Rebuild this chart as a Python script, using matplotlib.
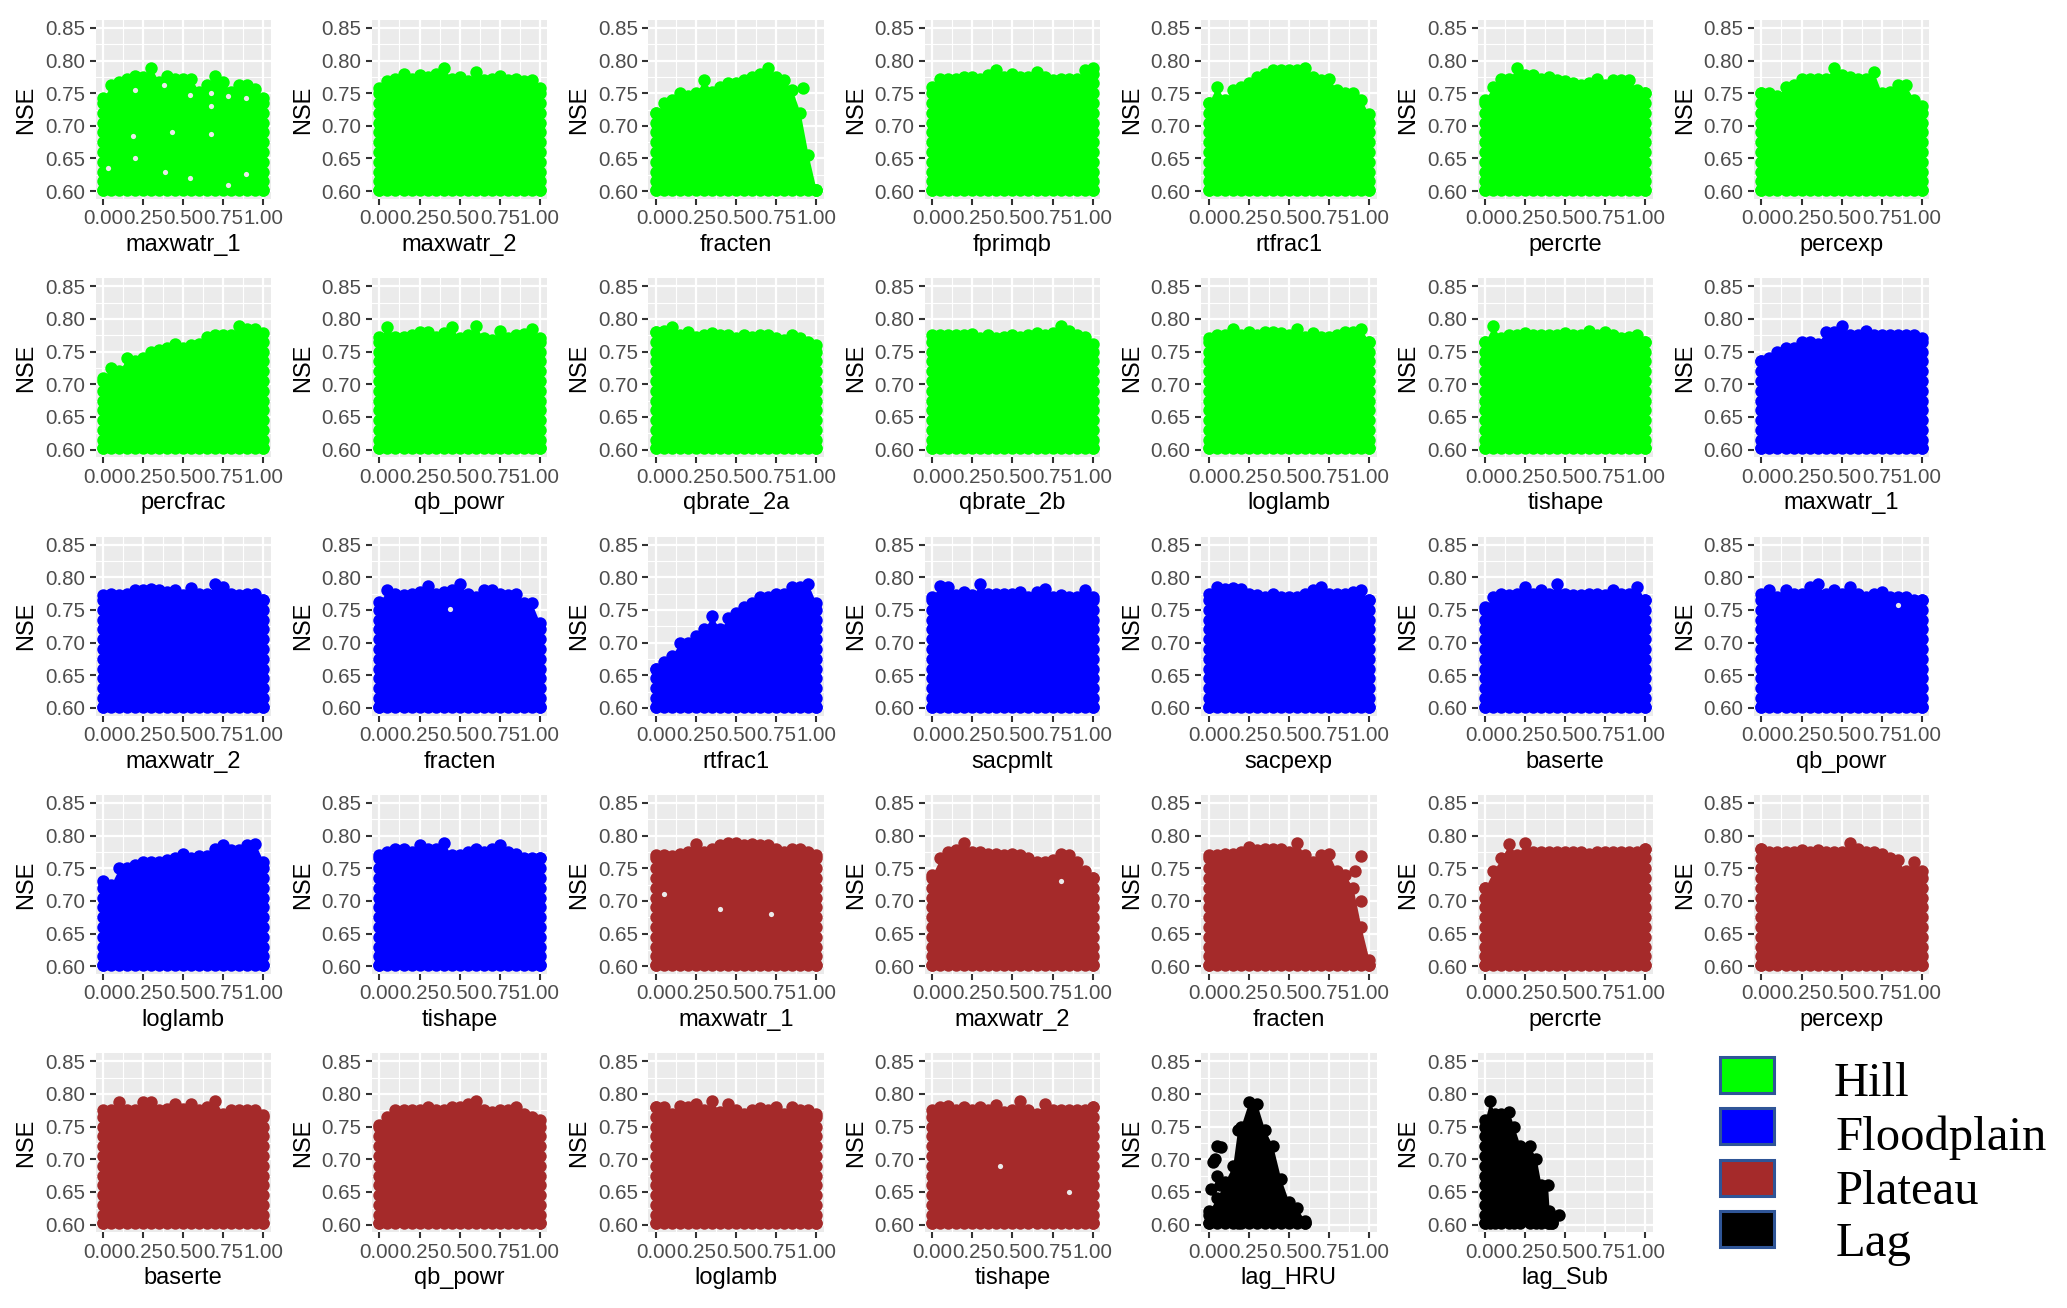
import matplotlib
matplotlib.use('Agg')
import matplotlib.pyplot as plt
from matplotlib.patches import Rectangle

# Clouds are too dense to read point by point, so each panel keeps the upper
# edge of its cloud (NSE at the x positions below).
x_pos = [0, .05, .1, .15, .2, .25, .3, .35, .4, .45, .5, .55, .6, .65, .7, .75, .8, .85, .9, .95, 1]
edge_y = [.602, .615, .63, .645, .66, .675, .69, .705, .72, .735, .75, .765, .78]

top_01 = [.742, .762, .767, .772, .777, .775, .789, .767, .777, .772, .772, .772, .752, .762, .777, .767, .752, .762, .762, .757, .742]
top_02 = [.758, .768, .772, .780, .772, .778, .775, .780, .789, .772, .775, .768, .782, .770, .772, .777, .770, .772, .768, .770, .758]
top_03 = [.72, .735, .74, .75, .745, .75, .77, .752, .76, .765, .765, .77, .775, .78, .789, .775, .77, .755, .72, .655, .602]
top_04 = [.76, .772, .772, .772, .775, .775, .772, .778, .785, .775, .78, .775, .775, .782, .775, .77, .772, .772, .772, .785, .789]
top_05 = [.735, .76, .74, .755, .76, .765, .775, .78, .785, .785, .785, .785, .789, .775, .77, .772, .755, .75, .75, .74, .718]
top_06 = [.74, .76, .772, .772, .789, .778, .778, .772, .775, .77, .768, .765, .762, .765, .772, .762, .77, .77, .77, .755, .75]
top_07 = [.75, .75, .745, .76, .762, .772, .772, .772, .772, .789, .778, .775, .772, .772, .782, .75, .752, .762, .762, .74, .73]
top_08 = [.71, .725, .72, .74, .735, .74, .75, .752, .755, .762, .755, .76, .762, .772, .775, .775, .775, .789, .785, .785, .778]
top_09 = [.772, .787, .772, .772, .775, .78, .78, .772, .778, .787, .77, .775, .789, .77, .768, .782, .77, .775, .777, .785, .77]
top_10 = [.78, .782, .788, .775, .78, .772, .775, .778, .775, .775, .77, .775, .772, .775, .775, .77, .768, .775, .77, .765, .76]
top_11 = [.775, .775, .775, .775, .775, .777, .77, .775, .77, .772, .775, .772, .775, .778, .775, .778, .789, .782, .775, .772, .762]
top_12 = [.77, .775, .775, .785, .775, .78, .775, .78, .78, .778, .775, .785, .772, .778, .772, .772, .775, .78, .78, .785, .765]
top_13 = [.765, .789, .77, .775, .775, .778, .775, .775, .775, .775, .778, .775, .775, .782, .775, .78, .775, .77, .772, .775, .765]
top_14 = [.735, .74, .75, .755, .755, .765, .765, .762, .78, .78, .789, .775, .775, .782, .775, .775, .775, .775, .775, .775, .77]
top_15 = [.772, .775, .772, .775, .78, .78, .782, .78, .778, .78, .772, .783, .775, .775, .789, .785, .775, .772, .775, .775, .765]
top_16 = [.762, .78, .775, .772, .775, .777, .787, .775, .778, .78, .789, .775, .77, .78, .78, .775, .772, .775, .76, .76, .73]
top_17 = [.66, .67, .68, .70, .70, .71, .72, .74, .72, .737, .745, .755, .76, .77, .77, .775, .775, .785, .785, .789, .76]
top_18 = [.77, .787, .785, .772, .778, .772, .789, .775, .775, .775, .775, .778, .77, .778, .782, .77, .772, .77, .77, .78, .77]
top_19 = [.775, .785, .782, .783, .782, .775, .772, .77, .775, .77, .77, .77, .775, .78, .785, .775, .775, .775, .778, .78, .765]
top_20 = [.755, .77, .775, .772, .775, .785, .775, .78, .775, .789, .775, .772, .772, .775, .775, .772, .78, .775, .775, .785, .765]
top_21 = [.775, .78, .77, .78, .775, .775, .785, .789, .775, .78, .775, .785, .775, .77, .775, .778, .77, .77, .77, .765, .765]
top_22 = [.73, .725, .75, .75, .755, .76, .76, .76, .762, .765, .772, .765, .768, .768, .78, .785, .778, .778, .785, .787, .76]
top_23 = [.77, .775, .78, .78, .775, .785, .78, .78, .789, .77, .77, .775, .78, .775, .78, .785, .775, .772, .765, .765, .765]
top_24 = [.77, .77, .768, .772, .775, .787, .775, .78, .785, .788, .788, .785, .787, .785, .785, .78, .775, .78, .78, .775, .77]
top_25 = [.74, .765, .775, .778, .789, .775, .775, .772, .772, .77, .772, .77, .765, .76, .76, .762, .772, .77, .76, .745, .735]
top_26 = [.77, .77, .772, .772, .775, .783, .778, .78, .78, .78, .775, .789, .77, .76, .77, .772, .745, .74, .72, .66, .61]
top_27 = [.72, .745, .765, .787, .77, .789, .775, .775, .775, .775, .775, .775, .775, .772, .775, .775, .775, .775, .775, .775, .78]
top_28 = [.78, .775, .775, .775, .775, .778, .775, .778, .775, .775, .775, .789, .78, .775, .775, .772, .765, .762, .745, .76, .745]
top_29 = [.775, .775, .787, .775, .775, .787, .787, .775, .777, .785, .777, .785, .775, .78, .789, .77, .775, .775, .775, .775, .768]
top_30 = [.752, .765, .775, .775, .775, .775, .78, .775, .775, .78, .78, .785, .789, .775, .772, .775, .775, .78, .77, .765, .76]
top_31 = [.78, .78, .77, .782, .78, .785, .775, .789, .772, .785, .775, .77, .775, .778, .775, .78, .77, .78, .775, .775, .77]
top_32 = [.775, .78, .782, .775, .78, .775, .78, .775, .783, .772, .775, .789, .775, .77, .785, .775, .775, .775, .775, .775, .78]

# the two lag panels only cover part of the range
lag_hru_x = [0, .05, .1, .15, .18, .2, .25, .3, .35, .4, .45, .5, .55, .6]
lag_hru_top = [.62, .64, .665, .69, .745, .75, .788, .785, .745, .72, .67, .635, .625, .606]
lag_sub_x = [0, .03, .06, .1, .15, .18, .22, .28, .32, .35, .39, .4, .42]
lag_sub_top = [.76, .789, .77, .77, .772, .75, .72, .72, .70, .66, .66, .62, .605]

labels = ['maxwatr_1', 'maxwatr_2', 'fracten', 'fprimqb', 'rtfrac1', 'percrte', 'percexp',
          'percfrac', 'qb_powr', 'qbrate_2a', 'qbrate_2b', 'loglamb', 'tishape', 'maxwatr_1',
          'maxwatr_2', 'fracten', 'rtfrac1', 'sacpmlt', 'sacpexp', 'baserte', 'qb_powr',
          'loglamb', 'tishape', 'maxwatr_1', 'maxwatr_2', 'fracten', 'percrte', 'percexp',
          'baserte', 'qb_powr', 'loglamb', 'tishape', 'lag_HRU', 'lag_Sub']
groups = ['Hill'] * 13 + ['Floodplain'] * 10 + ['Plateau'] * 9 + ['Lag'] * 2
group_names = ['Hill', 'Floodplain', 'Plateau', 'Lag']
group_colors = ['#00FF00', '#0000FF', '#A52A2A', '#000000']

tops = [top_01, top_02, top_03, top_04, top_05, top_06, top_07, top_08, top_09, top_10, top_11,
        top_12, top_13, top_14, top_15, top_16, top_17, top_18, top_19, top_20, top_21, top_22,
        top_23, top_24, top_25, top_26, top_27, top_28, top_29, top_30, top_31, top_32,
        lag_hru_top, lag_sub_top]
xs = [x_pos] * 32 + [lag_hru_x, lag_sub_x]

# isolated points that stand away from the main cloud: panel index, x, NSE
lone_panel = [2, 25, 25, 25, 32, 32, 32, 32, 32, 32, 32, 33]
lone_x = [.92, .95, .95, .91, .03, .05, .08, .04, .05, .07, .015, .46]
lone_y = [.758, .768, .70, .745, .695, .72, .718, .70, .675, .66, .655, .615]

# gaps in the clouds where the grey panel shows through
gap_panel = [0] * 16 + [15, 20, 23, 23, 23, 31, 31, 24]
gap_x = [.2, .38, .54, .67, .67, .185, .43, .78, .89, .385, .2, .03, .78, .89, .54, .67,
         .44, .85, .4, .72, .05, .42, .85, .8]
gap_y = [.755, .763, .747, .73, .75, .685, .69, .745, .743, .63, .65, .635, .61, .627, .62, .687,
         .752, .757, .688, .68, .71, .69, .65, .73]

x_ticks = [0, .25, .5, .75, 1]
y_ticks = [.60, .65, .70, .75, .80, .85]

W, H = 2067, 1308
fig = plt.figure(figsize=(W / 100, H / 100), dpi=100)
plt.rcParams['font.family'] = ['Liberation Sans', 'DejaVu Sans']

panel_w, panel_h = 175.5, 179
dot = 80
for i, label in enumerate(labels):
    row, col = divmod(i, 7)
    left = 95.5 + col * 276.4
    top = 20 + row * 258.35
    ax = fig.add_axes([left / W, 1 - (top + panel_h) / H, panel_w / W, panel_h / H])
    ax.set_facecolor('#EBEBEB')
    for s in ax.spines.values():
        s.set_visible(False)
    ax.set_xlim(-.047, 1.047)
    ax.set_ylim(.588, .862)
    ax.set_xticks(x_ticks)
    ax.set_yticks(y_ticks)
    ax.set_xticks([.125, .375, .625, .875], minor=True)
    ax.set_yticks([.625, .675, .725, .775, .825], minor=True)
    ax.set_xticklabels(['0.00', '0.25', '0.50', '0.75', '1.00'], fontsize=14.8, color='#4D4D4D')
    ax.set_yticklabels(['0.60', '0.65', '0.70', '0.75', '0.80', '0.85'], fontsize=14.8, color='#4D4D4D')
    ax.tick_params(axis='both', which='major', length=4.5, width=1.5, color='#333333', pad=3)
    ax.tick_params(axis='both', which='minor', length=0)
    ax.grid(which='major', color='white', lw=1.6)
    ax.grid(which='minor', color='white', lw=.8)
    ax.set_axisbelow(True)
    ax.set_xlabel(label, fontsize=17)
    ax.set_ylabel('NSE', fontsize=17)
    ax.xaxis.set_label_coords(.5, -.196)
    ax.yaxis.set_label_coords(-.33, .5)

    color = group_colors[group_names.index(groups[i])]
    px, py = xs[i], tops[i]
    ax.fill_between(px, .602, py, color=color, lw=0, zorder=3)
    ax.scatter(px, py, s=dot, color=color, lw=0, zorder=3)
    ax.scatter(px, [.602] * len(px), s=dot, color=color, lw=0, zorder=3)
    left_edge = [y for y in edge_y if y <= py[0]]
    right_edge = [y for y in edge_y if y <= py[-1]]
    ax.scatter([px[0]] * len(left_edge), left_edge, s=dot, color=color, lw=0, zorder=3)
    ax.scatter([px[-1]] * len(right_edge), right_edge, s=dot, color=color, lw=0, zorder=3)
    for p, lx, ly in zip(lone_panel, lone_x, lone_y):
        if p == i:
            ax.scatter(lx, ly, s=dot, color=color, lw=0, zorder=3)
    for p, gx, gy in zip(gap_panel, gap_x, gap_y):
        if p == i:
            ax.scatter(gx, gy, s=14, color='#EBEBEB', lw=0, zorder=4)

# legend was pasted next to the panels, so it is drawn by hand
sw_tops = [1057, 1108, 1160, 1211]
text_y = [1084, 1138, 1192, 1244]
text_x = [1834, 1836, 1836, 1836]
for name, color, sy, ty, tx in zip(group_names, group_colors, sw_tops, text_y, text_x):
    fig.add_artist(Rectangle((1720 / W, 1 - (sy + 36) / H), 54 / W, 36 / H, transform=fig.transFigure,
                             facecolor=color, edgecolor='#2F5597', lw=2.2))
    fig.text(tx / W, 1 - ty / H, name, fontsize=35, family='Liberation Serif', color='black',
             ha='left', va='center')

fig.savefig('out.png', dpi=100)
